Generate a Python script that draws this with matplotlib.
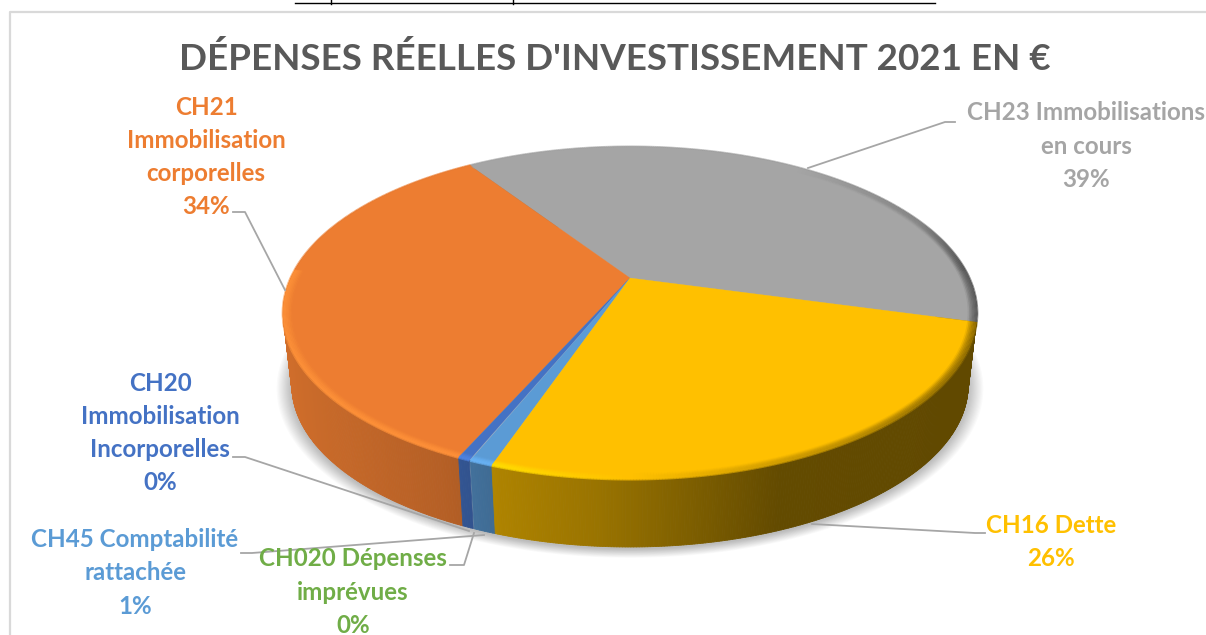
import numpy as np
import matplotlib
matplotlib.use('Agg')
import matplotlib.pyplot as plt
from matplotlib.collections import PolyCollection

plt.rcParams['font.family'] = ['Lato', 'DejaVu Sans']

title = "DÉPENSES RÉELLES D'INVESTISSEMENT 2021 EN €"

# slices counter clockwise, starting from the grey/yellow edge
names = ['CH23 Immobilisations\nen cours', 'CH21\nImmobilisation\ncorporelles',
         'CH20\nImmobilisation\nIncorporelles', 'CH020 Dépenses\nimprévues',
         'CH45 Comptabilité\nrattachée', 'CH16 Dette']
shares = [38.51, 33.92, 0.46, 0.04, 0.9, 26.03]
colors = ['#A5A5A5', '#ED7D31', '#4472C4', '#70AD47', '#5B9BD5', '#FFC000']

start_angle = -15.2

# label centres in pixels
label_xy = [(1086, 146), (206, 157), (160, 433), (353, 592), (135, 573), (1051, 542)]
# leader lines in pixels
leaders = [[(955, 122), (945, 122), (808, 168)],
           [(233, 212), (245, 212), (285, 290)],
           [(233, 457), (245, 457), (469, 531)],
           [(450, 565), (464, 565), (474, 533)],
           [(241, 553), (252, 553), (484, 535)],
           [(812, 524), (975, 533), (985, 533)]]

# pie geometry in pixels (perspective: hub sits above the ellipse centre)
hub_x, hub_y = 630, 278
a, b, k = 339, 158.6, 0.211
depth, shrink = 73, 0.975


def top_xy(t, s=1.0):
    u, v = np.cos(t), np.sin(t)
    w = 1 + k * v
    return hub_x + s * a * u / w, hub_y - s * b * v / w


def bottom_xy(t, s=1.0):
    x, y = top_xy(t, shrink * s)
    return x, y + depth


def side_shade(x):
    return np.interp(x, [284, 300, 450, 500, 600, 780, 975], [0.88, 0.86, 0.76, 0.68, 0.60, 0.39, 0.38])


fig = plt.figure(figsize=(12.06, 6.35), dpi=100)
ax = fig.add_axes([0, 0, 1, 1])
ax.set_xlim(0, 1206)
ax.set_ylim(635, 0)
ax.axis('off')

# bits of the page around the chart
ax.plot([10, 10, 1206], [635, 12, 12], color='#D9D9D9', lw=1.6)
ax.plot([295, 935], [2.5, 2.5], color='black', lw=1)
ax.plot([331, 331], [0, 4], color='black', lw=1)
ax.plot([513, 513], [0, 4], color='black', lw=1)

ax.text(615, 59, title, ha='center', va='center', fontsize=26.5, fontweight='bold', color='#595959')

# soft shadow under the pie
tt = np.linspace(0, 2 * np.pi, 400)
for s in np.linspace(1.045, 1.0, 14):
    sx, sy = bottom_xy(tt, s)
    ax.fill(sx, sy + 2, color='black', alpha=0.018, lw=0, zorder=1)

# slice edges in radians
edges = np.radians(start_angle + np.concatenate([[0], np.cumsum(shares)]) * 360 / sum(shares))

# side wall, small quads so the shading runs along x
for i in range(len(shares)):
    if shares[i] < 0.1:  # too thin to show, its edge would only stain the neighbours
        continue
    n = max(int((edges[i + 1] - edges[i]) * 150), 2)
    t = np.linspace(edges[i], edges[i + 1], n + 1)
    x1, y1 = top_xy(t)
    x2, y2 = bottom_xy(t)
    base = np.array(matplotlib.colors.to_rgb(colors[i]))
    quads = []
    cols = []
    for j in range(n):
        quads.append([(x1[j], y1[j]), (x1[j + 1], y1[j + 1]), (x2[j + 1], y2[j + 1]), (x2[j], y2[j])])
        cols.append(base * side_shade((x1[j] + x1[j + 1]) / 2))
    ax.add_collection(PolyCollection(quads, facecolors=cols, edgecolors=cols, linewidths=0.6, zorder=2))

# top face
for i in range(len(shares)):
    if shares[i] < 0.1:
        continue
    t = np.linspace(edges[i], edges[i + 1], 200)
    x, y = top_xy(t)
    ax.fill(np.r_[hub_x, x], np.r_[hub_y, y], color=colors[i], lw=0.2, zorder=3)

# bevel on the rim, bright on the left, dark on the right
for i in range(len(shares)):
    if shares[i] < 0.1:
        continue
    n = max(int((edges[i + 1] - edges[i]) * 150), 2)
    t = np.linspace(edges[i], edges[i + 1], n + 1)
    base = np.array(matplotlib.colors.to_rgb(colors[i]))
    for j in range(n):
        tm = t[j:j + 2]
        xm = top_xy(tm)[0].mean()
        front = np.sin(tm.mean()) < 0.05
        if front:
            f = np.interp(xm, [284, 500, 650, 850, 975], [1.18, 1.15, 0.98, 0.72, 0.5])
        else:
            f = np.interp(xm, [284, 800, 920, 975], [1.0, 1.0, 0.8, 0.4])
        c = np.clip(base * f, 0, 1)
        for s, al in zip(np.linspace(0.978, 1.0, 6), np.linspace(0.12, 0.7, 6)):
            xx, yy = top_xy(tm, s)
            ax.plot(xx, yy, color=c, lw=2.2, alpha=al, zorder=4, solid_capstyle='butt')

for pts in leaders:
    ax.plot([p[0] for p in pts], [p[1] for p in pts], color='#A6A6A6', lw=1.3, zorder=5)

for name, share, col, (lx, ly) in zip(names, shares, colors, label_xy):
    ax.text(lx, ly, f'{name}\n{round(share)}%', ha='center', va='center', fontsize=17.4,
            fontweight='bold', color=col, linespacing=1.53, zorder=6)

fig.savefig('out.png', dpi=100)
